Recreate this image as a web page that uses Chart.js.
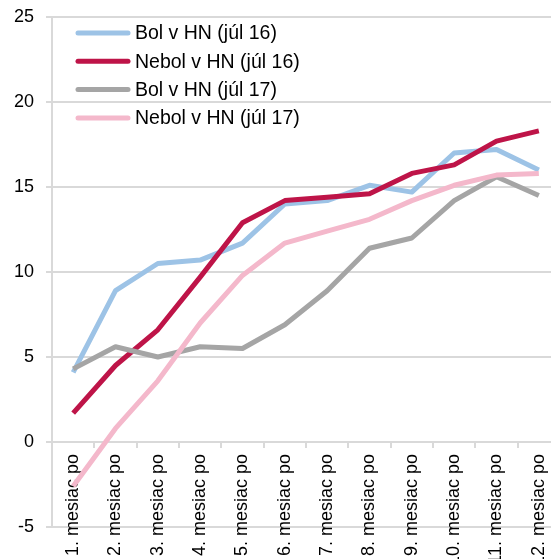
<!DOCTYPE html>
<html lang="sk">
<head>
<meta charset="utf-8">
<title>Bol v HN</title>
<script src="https://cdn.jsdelivr.net/npm/chart.js@4.4.1/dist/chart.umd.min.js"></script>
<style>
  html, body { margin: 0; padding: 0; background: #fff; overflow: hidden; }
  #wrap { width: 560px; height: 559px; }
</style>
</head>
<body>
<div id="wrap"><canvas id="hnChart" width="560" height="559"></canvas></div>
<script>
// mesiace po HN
const labels = [
  '1. mesiac po', '2. mesiac po', '3. mesiac po', '4. mesiac po',
  '5. mesiac po', '6. mesiac po', '7. mesiac po', '8. mesiac po',
  '9. mesiac po', '10. mesiac po', '11. mesiac po', '12. mesiac po'
];

// hodnoty odčítané z grafu
const bolJul16   = [4.1, 8.9, 10.5, 10.7, 11.7, 14.0, 14.2, 15.1, 14.7, 17.0, 17.2, 16.0];
const nebolJul16 = [1.7, 4.5, 6.6, 9.7, 12.9, 14.2, 14.4, 14.6, 15.8, 16.3, 17.7, 18.3];
const bolJul17   = [4.3, 5.6, 5.0, 5.6, 5.5, 6.9, 8.9, 11.4, 12.0, 14.2, 15.6, 14.5];
const nebolJul17 = [-2.6, 0.8, 3.6, 7.0, 9.8, 11.7, 12.4, 13.1, 14.2, 15.1, 15.7, 15.8];

const yMin = -5;
const yMax = 25;
const yStep = 5;

const FONT = '"Liberation Sans", Arial, sans-serif';
const GRID = '#d9d9d9';

// legenda vnútri grafu, vľavo hore
const insideLegend = {
  id: 'insideLegend',
  afterDatasetsDraw(chart) {
    const ctx = chart.ctx;
    const area = chart.chartArea;
    ctx.save();
    ctx.font = '19.5px ' + FONT;
    ctx.textBaseline = 'middle';
    chart.data.datasets.forEach((ds, i) => {
      const y = area.top + 16 + i * 28.3;
      ctx.strokeStyle = ds.borderColor;
      ctx.lineWidth = 5;
      ctx.lineCap = 'round';
      ctx.beginPath();
      ctx.moveTo(area.left + 26, y);
      ctx.lineTo(area.left + 76, y);
      ctx.stroke();
      ctx.fillStyle = '#000';
      ctx.fillText(ds.label, area.left + 83, y + 1);
    });
    ctx.restore();
  }
};

function line(label, data, color, order) {
  return {
    label: label,
    data: data,
    borderColor: color,
    backgroundColor: color,
    borderWidth: 5,
    borderJoinStyle: 'round',
    tension: 0,
    pointRadius: 0,
    pointHoverRadius: 0,
    fill: false,
    order: order
  };
}

const ctx = document.getElementById('hnChart').getContext('2d');
const hnChart = new Chart(ctx, {
  type: 'line',
  data: {
    labels: labels,
    datasets: [
      line('Bol v HN (júl 16)', bolJul16, '#9dc3e6', 4),
      line('Nebol v HN (júl 16)', nebolJul16, '#be1448', 3),
      line('Bol v HN (júl 17)', bolJul17, '#a5a5a5', 2),
      line('Nebol v HN (júl 17)', nebolJul17, '#f4b8cb', 1)
    ]
  },
  options: {
    responsive: false,
    animation: false,
    layout: { padding: { top: 17, bottom: 32, left: 14, right: 0 } },
    plugins: {
      legend: { display: false },
      tooltip: { enabled: false }
    },
    scales: {
      x: {
        position: { y: 0 },
        offset: true,
        z: 1,
        // popisky sú otočené, okraje netreba
        afterFit: (s) => { s.paddingLeft = 0; s.paddingRight = 0; },
        grid: {
          offset: true,
          drawOnChartArea: false,
          drawTicks: true,
          tickLength: 6,
          color: GRID,
          lineWidth: 2
        },
        border: { display: false },
        ticks: {
          autoSkip: false,
          minRotation: 90,
          maxRotation: 90,
          padding: 6,
          color: '#000',
          font: { family: FONT, size: 18 }
        }
      },
      y: {
        min: yMin,
        max: yMax,
        afterFit: (s) => { s.width = 38; s.paddingTop = 11; s.paddingBottom = 11; },
        grid: {
          color: GRID,
          lineWidth: 2,
          tickLength: 6
        },
        border: { display: true, color: GRID, width: 2 },
        ticks: {
          stepSize: yStep,
          padding: 12,
          color: '#000',
          font: { family: FONT, size: 18 }
        }
      }
    }
  },
  plugins: [insideLegend]
});
</script>
</body>
</html>
